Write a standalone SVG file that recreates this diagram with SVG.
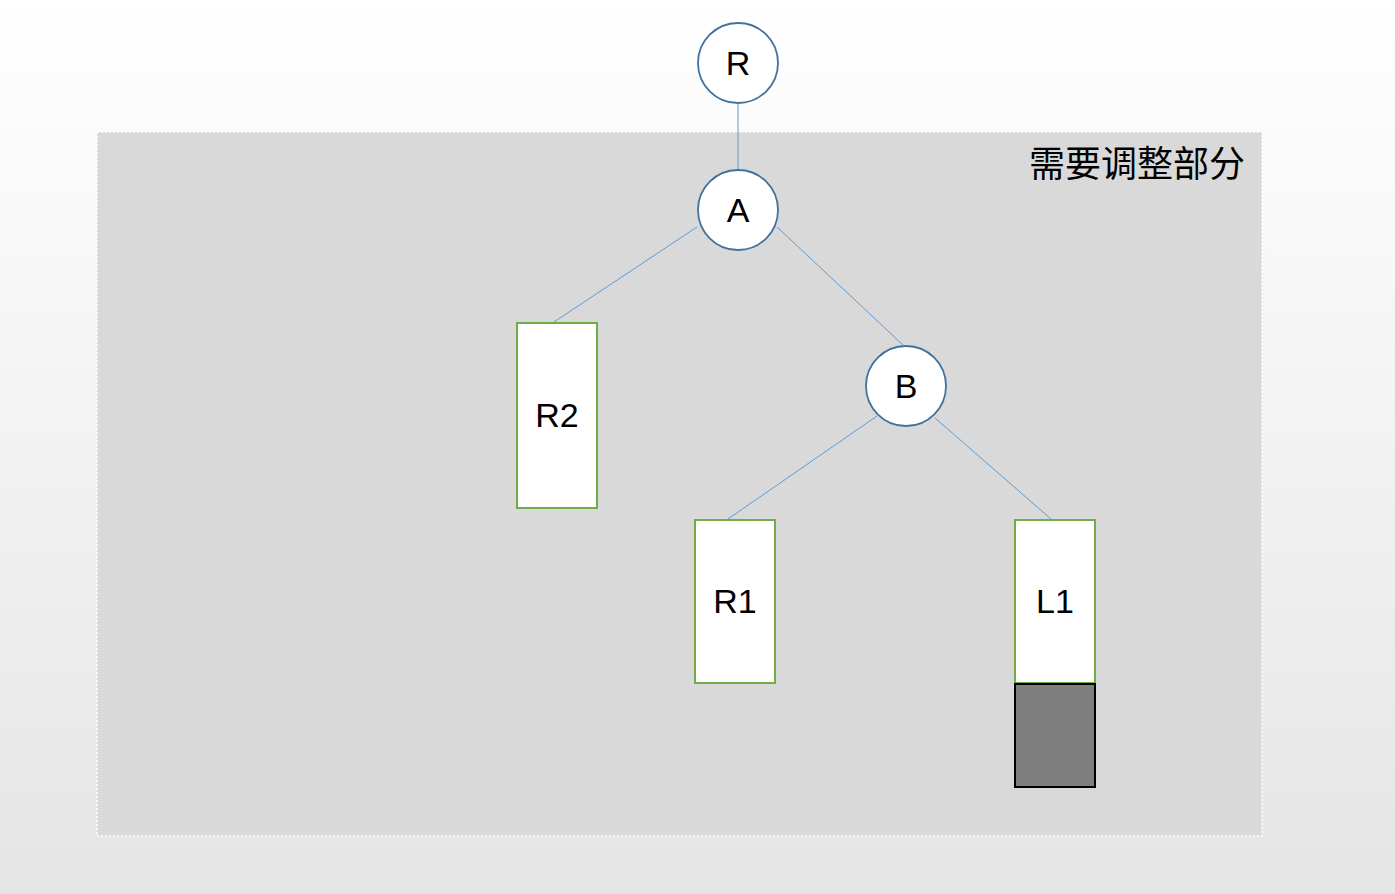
<svg xmlns="http://www.w3.org/2000/svg" width="1395" height="894" viewBox="0 0 1395 894">
<defs>
<linearGradient id="bg" x1="0" y1="0" x2="0" y2="1">
<stop offset="0" stop-color="#ffffff"/>
<stop offset="1" stop-color="#e5e5e5"/>
</linearGradient>
<style>
.c{fill:#ffffff;stroke:#41719c;stroke-width:1.8}
.r{fill:#ffffff;stroke:#70ad47;stroke-width:2}
.t{font-family:"Liberation Sans",Arial,sans-serif;font-size:34px;fill:#000;text-anchor:middle;dominant-baseline:central}
.e{stroke:#5b9bd5;stroke-width:1;fill:none}
</style>
</defs>
<rect x="0" y="0" width="1395" height="894" fill="url(#bg)"/>
<g id="region">
<rect x="97" y="132" width="1165" height="704" fill="#d9d9d9" stroke="#ffffff" stroke-width="1.5" stroke-dasharray="2,2"/>
<text x="1245" y="161" font-family="'Noto Sans CJK SC',sans-serif" font-size="36" fill="#000" text-anchor="end" dominant-baseline="central">需要调整部分</text>
</g>
<g id="connectors">
<line class="e" x1="738" y1="103" x2="738" y2="170"/>
<line class="e" x1="697" y1="227" x2="554" y2="322"/>
<line class="e" x1="777" y1="227" x2="903" y2="345"/>
<line class="e" x1="877" y1="416" x2="728" y2="519"/>
<line class="e" x1="935" y1="418" x2="1051" y2="519"/>
</g>
<g id="R"><circle class="c" cx="738" cy="63" r="40"/><text class="t" x="738" y="63">R</text></g>
<g id="A"><circle class="c" cx="738" cy="210" r="40"/><text class="t" x="738" y="210">A</text></g>
<g id="B"><circle class="c" cx="906" cy="386" r="40"/><text class="t" x="906" y="386">B</text></g>
<g id="R2"><rect class="r" x="517" y="323" width="80" height="185"/><text class="t" x="557" y="415">R2</text></g>
<g id="R1"><rect class="r" x="695" y="520" width="80" height="163"/><text class="t" x="735" y="601">R1</text></g>
<g id="L1"><rect class="r" x="1015" y="520" width="80" height="163"/><text class="t" x="1055" y="601">L1</text></g>
<g id="L1ext"><rect x="1015" y="684" width="80" height="103" fill="#7f7f7f" stroke="#000" stroke-width="2"/></g>
</svg>
